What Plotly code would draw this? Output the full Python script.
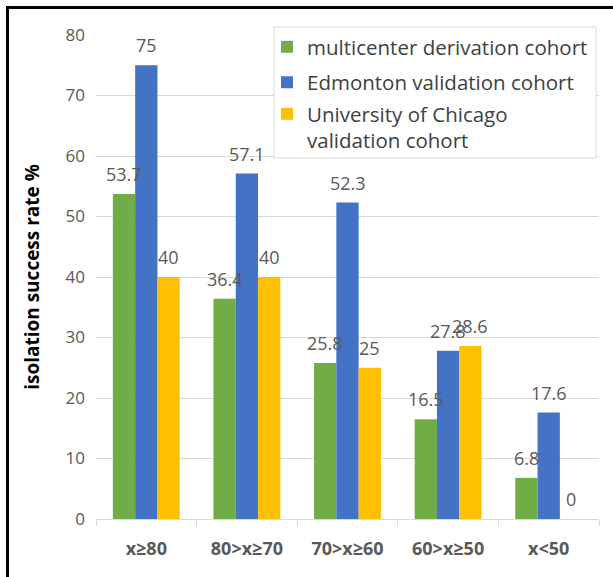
import plotly.graph_objects as go

categories = ["x≥80", "80>x≥70", "70>x≥60", "60>x≥50", "x<50"]
series_names = ["multicenter derivation cohort", "Edmonton validation cohort",
                "University of Chicago<br>validation cohort"]
multicenter = [53.7, 36.4, 25.8, 16.5, 6.8]
edmonton = [75, 57.1, 52.3, 27.8, 17.6]
chicago = [40, 40, 25, 28.6, 0]
colors = ["#70AD47", "#4472C4", "#FFC000"]
y_ticks = [0, 10, 20, 30, 40, 50, 60, 70, 80]

FONT = "Open Sans"
W, H = 613, 577
ML, MR, MT, MB = 96, 14, 35, 58
BARGAP = 0.335

plot_w = W - ML - MR
plot_h = H - MT - MB
def px_x(p):
    return (p - ML) / plot_w
def px_y(p):
    return (H - MB - p) / plot_h

legend_ids = ["legend", "legend2", "legend3"]
legend_tops = [27, 62.5, 94]

fig = go.Figure()
all_series = [multicenter, edmonton, chicago]
for i, (name, vals) in enumerate(zip(series_names, all_series)):
    fig.add_trace(go.Bar(
        x=categories, y=vals, name=name,
        marker=dict(color=colors[i], line=dict(width=0)),
        legend=legend_ids[i],
    ))

cat_w = plot_w / len(categories)
bar_w = cat_w * (1 - BARGAP) / 3

annotations = []
for i, vals in enumerate(all_series):
    for c, v in zip(categories, vals):
        annotations.append(dict(
            x=c, y=v, xref="x", yref="y", text=f"{v:g}",
            showarrow=False, xshift=(i - 1) * bar_w, yshift=20,
            yanchor="middle", xanchor="center",
            font=dict(family=FONT, size=18, color="#595959"),
        ))

shapes = [
    dict(type="rect", xref="paper", yref="paper", layer="above",
         x0=px_x(274), x1=px_x(596), y0=px_y(158), y1=px_y(27),
         fillcolor="white", line=dict(color="#D9D9D9", width=1)),
    dict(type="line", xref="paper", yref="paper",
         x0=px_x(7.5), x1=px_x(7.5), y0=px_y(6), y1=px_y(577),
         line=dict(color="black", width=3)),
    dict(type="line", xref="paper", yref="paper",
         x0=px_x(6), x1=px_x(613), y0=px_y(7.5), y1=px_y(7.5),
         line=dict(color="black", width=3)),
]

legend_style = dict(
    xanchor="left", yanchor="top",
    bgcolor="rgba(0,0,0,0)", borderwidth=0,
    font=dict(family=FONT, size=20.5, color="#404040"),
    valign="top",
)
legends = {}
for lid, top in zip(legend_ids, legend_tops):
    legends[lid] = dict(x=px_x(267), y=px_y(top), **legend_style)

fig.update_layout(
    width=W, height=H,
    margin=dict(l=ML, r=MR, t=MT, b=MB),
    paper_bgcolor="white", plot_bgcolor="white",
    barmode="group", bargap=BARGAP, bargroupgap=0,
    font=dict(family=FONT),
    showlegend=True,
    annotations=annotations,
    shapes=shapes,
    xaxis=dict(
        type="category",
        showline=True, linecolor="#D9D9D9", linewidth=1,
        ticks="outside", tickson="boundaries", ticklen=6, tickcolor="#D9D9D9",
        tickfont=dict(family=FONT, size=18, color="#595959", weight="bold"),
        ticklabelstandoff=13,
        showgrid=False,
    ),
    yaxis=dict(
        range=[0, 80], tickvals=y_ticks,
        showgrid=True, gridcolor="#D9D9D9", gridwidth=1,
        zeroline=False, showline=False, ticks="",
        tickfont=dict(family=FONT, size=17, color="#595959"),
        ticklabelstandoff=10,
        title=dict(text="isolation success rate %", standoff=20,
                   font=dict(family=FONT, size=19, color="black", weight="bold")),
    ),
    **legends,
)

fig.write_html("out.html", config={"displayModeBar": False},
               post_script="document.body.style.margin='0';")
